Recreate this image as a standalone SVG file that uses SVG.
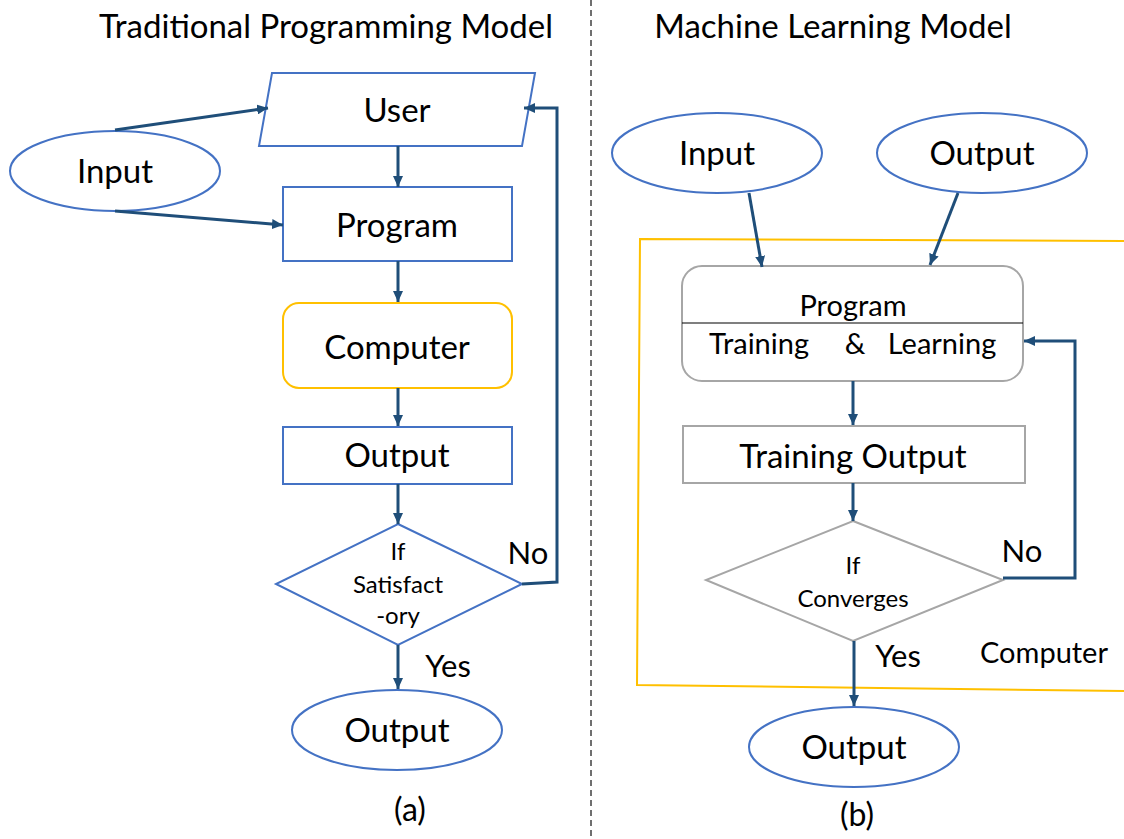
<svg xmlns="http://www.w3.org/2000/svg" width="1124" height="839" viewBox="0 0 1124 839">
  <style>
    text { font-family: Lato, "Liberation Sans", sans-serif; fill: #000; text-anchor: middle; }
    .blue { fill: #fff; stroke: #4472C4; stroke-width: 2; }
    .gray { fill: #fff; stroke: #A6A6A6; stroke-width: 2; }
    .gold { fill: none; stroke: #FFC000; stroke-width: 2; }
    .conn { fill: none; stroke: #1F4E79; stroke-width: 3; }
    .arrow { marker-end: url(#head); }
    .big { font-size: 33px; }
    .lbl { font-size: 31px; }
    .mid { font-size: 29px; }
    .small { font-size: 24px; }
    .cap { font-size: 32px; }
  </style>
  <defs>
    <marker id="head" markerUnits="userSpaceOnUse" markerWidth="12" markerHeight="10" refX="11" refY="5" orient="auto">
      <path d="M0,0 L11,5 L0,10 z" fill="#1F4E79"/>
    </marker>
  </defs>
  <rect width="1124" height="839" fill="#fff"/>

  <!-- panel divider -->
  <line x1="591" y1="0" x2="591" y2="839" stroke="#404040" stroke-width="1.5" stroke-dasharray="6,4"/>

  <!-- titles and captions -->
  <text x="326" y="38" class="big">Traditional Programming Model</text>
  <text x="833" y="38" class="big">Machine Learning Model</text>
  <text x="410" y="821" class="cap">(a)</text>
  <text x="857" y="826" class="cap">(b)</text>

  <!-- (a) traditional programming -->
  <g id="a-input">
    <ellipse class="blue" cx="115" cy="171" rx="105" ry="40"/>
    <text x="115" y="183" class="big">Input</text>
  </g>
  <g id="a-user">
    <polygon class="blue" points="272,73 535,73 522,146 259,146"/>
    <text x="397" y="122" class="big">User</text>
  </g>
  <g id="a-program">
    <rect class="blue" x="283" y="187" width="229" height="74"/>
    <text x="397" y="237" class="big">Program</text>
  </g>
  <g id="a-computer">
    <rect class="gold" x="283" y="303" width="229" height="85" rx="16"/>
    <text x="397" y="359" class="big">Computer</text>
  </g>
  <g id="a-output">
    <rect class="blue" x="283" y="427" width="229" height="57"/>
    <text x="397" y="467" class="big">Output</text>
  </g>
  <g id="a-decision">
    <polygon class="blue" points="398,524 522,584 398,645 276,584"/>
    <text x="398" y="560" class="small">If</text>
    <text x="398" y="593" class="small">Satisfact</text>
    <text x="398" y="624" class="small">-ory</text>
  </g>
  <g id="a-result">
    <ellipse class="blue" cx="397" cy="730" rx="105" ry="40"/>
    <text x="397" y="742" class="big">Output</text>
  </g>
  <text x="448" y="677" class="lbl">Yes</text>
  <text x="528" y="564" class="lbl">No</text>

  <!-- (b) machine learning -->
  <g id="b-computer">
    <polyline class="gold" points="1124,241 640,239 637,685 1124,691"/>
    <text x="1044" y="663" class="mid">Computer</text>
  </g>
  <g id="b-input">
    <ellipse class="blue" cx="717" cy="153" rx="105" ry="40"/>
    <text x="717" y="165" class="big">Input</text>
  </g>
  <g id="b-output">
    <ellipse class="blue" cx="982" cy="153" rx="105" ry="40"/>
    <text x="982" y="165" class="big">Output</text>
  </g>
  <g id="b-program">
    <rect class="gray" x="682" y="266" width="341" height="115" rx="20"/>
    <line x1="682" y1="323" x2="1023" y2="323" stroke="#000" stroke-width="1.2"/>
    <text x="853" y="316" class="mid">Program</text>
    <text x="759" y="354" class="mid">Training</text>
    <text x="855" y="354" class="mid">&amp;</text>
    <text x="942" y="354" class="mid">Learning</text>
  </g>
  <g id="b-training-output">
    <rect class="gray" x="683" y="426" width="342" height="57"/>
    <text x="853" y="468" class="big">Training Output</text>
  </g>
  <g id="b-decision">
    <polygon class="gray" points="853,521 1003,580 853,641 706,580"/>
    <text x="853" y="574" class="small">If</text>
    <text x="853" y="607" class="small">Converges</text>
  </g>
  <g id="b-result">
    <ellipse class="blue" cx="854" cy="747" rx="105" ry="40"/>
    <text x="854" y="759" class="big">Output</text>
  </g>
  <text x="898" y="667" class="lbl">Yes</text>
  <text x="1022" y="562" class="lbl">No</text>

  <!-- connectors -->
  <g id="connectors">
    <line class="conn arrow" x1="115" y1="130" x2="268" y2="108"/>
    <line class="conn arrow" x1="115" y1="211" x2="283" y2="225"/>
    <line class="conn arrow" x1="398" y1="146" x2="398" y2="187"/>
    <line class="conn arrow" x1="398" y1="261" x2="398" y2="302"/>
    <line class="conn arrow" x1="398" y1="388" x2="398" y2="426"/>
    <line class="conn arrow" x1="398" y1="484" x2="398" y2="524"/>
    <line class="conn arrow" x1="398" y1="645" x2="398" y2="689"/>
    <polyline class="conn arrow" points="522,584 557,582 557,108 524,108"/>

    <line class="conn arrow" x1="749" y1="193" x2="762" y2="267"/>
    <line class="conn arrow" x1="958" y1="193" x2="930" y2="265"/>
    <line class="conn arrow" x1="853" y1="381" x2="853" y2="425"/>
    <line class="conn arrow" x1="853" y1="483" x2="853" y2="521"/>
    <polyline class="conn arrow" points="1003,578 1075,578 1075,341 1024,341"/>
    <line class="conn arrow" x1="854" y1="641" x2="854" y2="706"/>
  </g>
</svg>
